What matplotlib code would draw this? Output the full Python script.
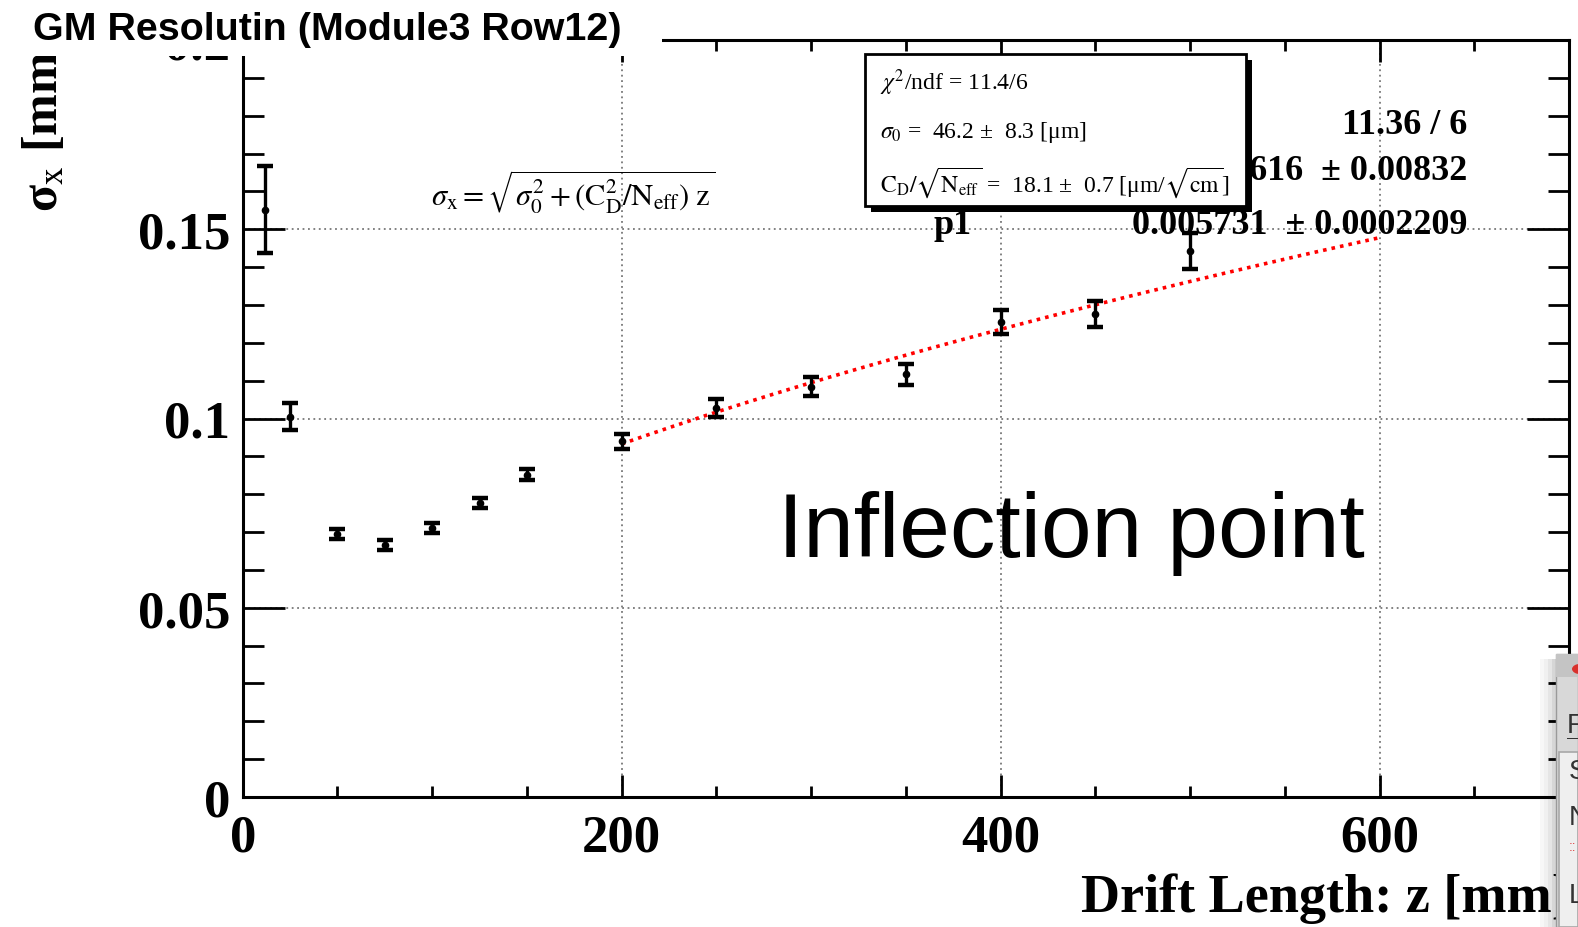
import numpy as np
import matplotlib
matplotlib.use("Agg")
import matplotlib.pyplot as plt
from matplotlib.patches import Rectangle, Circle
from matplotlib.ticker import MultipleLocator

W, H = 1578, 928

# ---------------- data ----------------
drift_z = [12, 25, 50, 75, 100, 125, 150, 200, 250, 300, 350, 400, 450, 500]
sigma_x = [0.1552, 0.1005, 0.0694, 0.0666, 0.0710, 0.0777, 0.0852,
           0.0940, 0.1027, 0.1084, 0.1117, 0.1254, 0.1276, 0.1443]
sigma_err = [0.0116, 0.0035, 0.0013, 0.0013, 0.0013, 0.0014, 0.0015,
             0.0020, 0.0024, 0.0025, 0.0028, 0.0032, 0.0034, 0.0048]
fit_p0 = 0.04616
fit_p1 = 0.005731
fit_range = [200, 600]

x_ticks = [0, 200, 400, 600]
x_tick_labels = ["0", "200", "400", "600"]
y_ticks = [0, 0.05, 0.1, 0.15, 0.2]
y_tick_labels = ["0", "0.05", "0.1", "0.15", "0.2"]

title_text = "GM Resolutin (Module3 Row12)"
x_label = "Drift Length: z [mm]"
y_label = "σ$_{\\rm x}$ [mm]"
stat_names = ["χ²/ndf", "p0", "p1"]
stat_values = ["11.36 / 6", "0.04616  ± 0.00832", "0.005731  ± 0.0002209"]
box_lines = [r"$\chi^{2}$/ndf = 11.4/6",
             r"$\sigma_{0}$ =  46.2 ±  8.3 [μm]",
             r"$\mathrm{C_{D}/\sqrt{N_{eff}}}$ =  18.1 ±  0.7 [μm/$\sqrt{\mathrm{cm}}$]"]
formula_text = r"$\sigma_{\mathrm{x}} = \sqrt{\sigma_{0}^{2}+(\mathrm{C_{D}^{2}/N_{eff}})\ \mathrm{z}}$"
annotation_text = "Inflection point"

# ---------------- style ----------------
plt.rcParams["mathtext.fontset"] = "stix"
SERIF = ["Liberation Serif", "DejaVu Serif"]
SANS = ["Liberation Sans", "DejaVu Sans"]


def fx(px):
    return px / W


def fy(py):
    return 1 - py / H


fig = plt.figure(figsize=(W / 100, H / 100), dpi=100)
fig.patch.set_facecolor("white")

ax_l, ax_r, ax_t, ax_b = 242.7, 1569, 41, 798
ax = fig.add_axes([fx(ax_l), fy(ax_b), (ax_r - ax_l) / W, (ax_b - ax_t) / H])
ax.set_xlim(0, 700)
ax.set_ylim(0, 0.2)

for s in ax.spines.values():
    s.set_linewidth(2.2)
    s.set_color("black")

ax.set_xticks(x_ticks)
ax.set_xticklabels(x_tick_labels)
ax.set_yticks(y_ticks)
ax.set_yticklabels(y_tick_labels)
ax.xaxis.set_minor_locator(MultipleLocator(50))
ax.yaxis.set_minor_locator(MultipleLocator(0.01))
ax.tick_params(which="both", direction="in", top=True, right=True, width=2.0, color="black")
ax.tick_params(axis="x", which="major", length=16, pad=12)
ax.tick_params(axis="x", which="minor", length=8)
ax.tick_params(axis="y", which="major", length=30, pad=9)
ax.tick_params(axis="y", which="minor", length=15)
for lab in ax.get_xticklabels() + ax.get_yticklabels():
    lab.set_fontfamily(SERIF)
    lab.set_fontweight("bold")
    lab.set_fontsize(38)

ax.grid(True, which="major", color="#777777", linestyle=(0, (1, 2)), linewidth=1.3)
ax.set_axisbelow(True)

# data points
ax.errorbar(drift_z, sigma_x, yerr=sigma_err, fmt="o", color="black", ms=4.5,
            elinewidth=2.4, capsize=5.5, capthick=3.2, zorder=5)

# fit function sigma = sqrt(p0^2 + p1^2 z)
zz = np.linspace(fit_range[0], fit_range[1], 300)
ax.plot(zz, np.sqrt(fit_p0 ** 2 + fit_p1 ** 2 * zz), color="red",
        linestyle=(0, (1, 1.4)), linewidth=2.6, zorder=4)

# axis labels
fig.text(fx(1570), fy(899), x_label, ha="right", va="center",
         fontfamily=SERIF, fontweight="bold", fontsize=39)
fig.text(fx(45), fy(ax_t - 4), y_label, rotation=90, ha="center", va="top",
         fontfamily=SERIF, fontweight="bold", fontsize=36)

# formula
fig.text(fx(431), fy(192), formula_text, ha="left", va="center",
         fontfamily=SERIF, fontsize=22)

# stats box (fit results)
stat_y = [125, 172, 226]
for name, val, yy in zip(stat_names, stat_values, stat_y):
    fig.text(fx(934), fy(yy), name, ha="left", va="center",
             fontfamily=SERIF, fontweight="bold", fontsize=26)
    fig.text(fx(1467), fy(yy), val, ha="right", va="center",
             fontfamily=SERIF, fontweight="bold", fontsize=26)

# pave with summarised fit result (shadow + box)
bx0, bx1, by0, by1 = 865, 1246, 55, 207
sh = 6
fig.patches.append(Rectangle((fx(bx0 + sh), fy(by1 + sh)), (bx1 - bx0) / W, (by1 - by0) / H,
                             transform=fig.transFigure, facecolor="black",
                             edgecolor="none", zorder=5))
fig.patches.append(Rectangle((fx(bx0), fy(by1)), (bx1 - bx0) / W, (by1 - by0) / H,
                             transform=fig.transFigure, facecolor="white",
                             edgecolor="black", linewidth=2, zorder=6))
for line, yy in zip(box_lines, [83, 133, 183]):
    fig.text(fx(880), fy(yy), line, ha="left", va="center",
             fontfamily=SERIF, fontsize=17, zorder=7)

# annotation
fig.text(fx(778), fy(533), annotation_text, ha="left", va="center",
         fontfamily=SANS, fontsize=65.5, zorder=8)

# title with white background
fig.patches.append(Rectangle((0, fy(57)), fx(662), 57 / H, transform=fig.transFigure,
                             facecolor="white", edgecolor="none", zorder=10))
fig.text(fx(33), fy(30), title_text, ha="left", va="center",
         fontfamily=SANS, fontweight="bold", fontsize=28.4, zorder=11)

# partially visible overlapping window (bottom-right corner)
for i, a in enumerate([0.03, 0.06, 0.1, 0.16]):
    fig.patches.append(Rectangle((fx(1540 + 4 * i), 0), 4 / W, fy(660),
                                 transform=fig.transFigure, facecolor="black",
                                 alpha=a, edgecolor="none", zorder=19))
fig.patches.append(Rectangle((fx(1556), 0), 22 / W, fy(655), transform=fig.transFigure,
                             facecolor="#d8d8d8", edgecolor="#9a9a9a", linewidth=1, zorder=20))
fig.patches.append(Rectangle((fx(1556), fy(678)), 22 / W, 23 / H, transform=fig.transFigure,
                             facecolor="#c4c4c4", edgecolor="none", zorder=21))
fig.patches.append(Circle((fx(1581), fy(670)), 9 / W, transform=fig.transFigure,
                          facecolor="#d9302c", edgecolor="none", zorder=22))
fig.patches.append(Rectangle((fx(1559), 0), 19 / W, fy(753), transform=fig.transFigure,
                             facecolor="#efefef", edgecolor="#a8a8a8", linewidth=1.2, zorder=21))
fig.text(fx(1567), fy(726), "F", ha="left", va="center", fontfamily=SANS,
         fontsize=20, color="#333333", zorder=23)
fig.patches.append(Rectangle((fx(1567), fy(740)), 11 / W, 1.5 / H, transform=fig.transFigure,
                             facecolor="#333333", edgecolor="none", zorder=23))
for ch, yy in zip(["S", "N", "L"], [772, 818, 896]):
    fig.text(fx(1569), fy(yy), ch, ha="left", va="center", fontfamily=SANS,
             fontsize=20, color="#333333", zorder=23)
fig.text(fx(1569), fy(847), "::", ha="left", va="center", fontfamily=SANS,
         fontsize=10, color="#e05050", zorder=23)

fig.savefig("out.png", dpi=100)
